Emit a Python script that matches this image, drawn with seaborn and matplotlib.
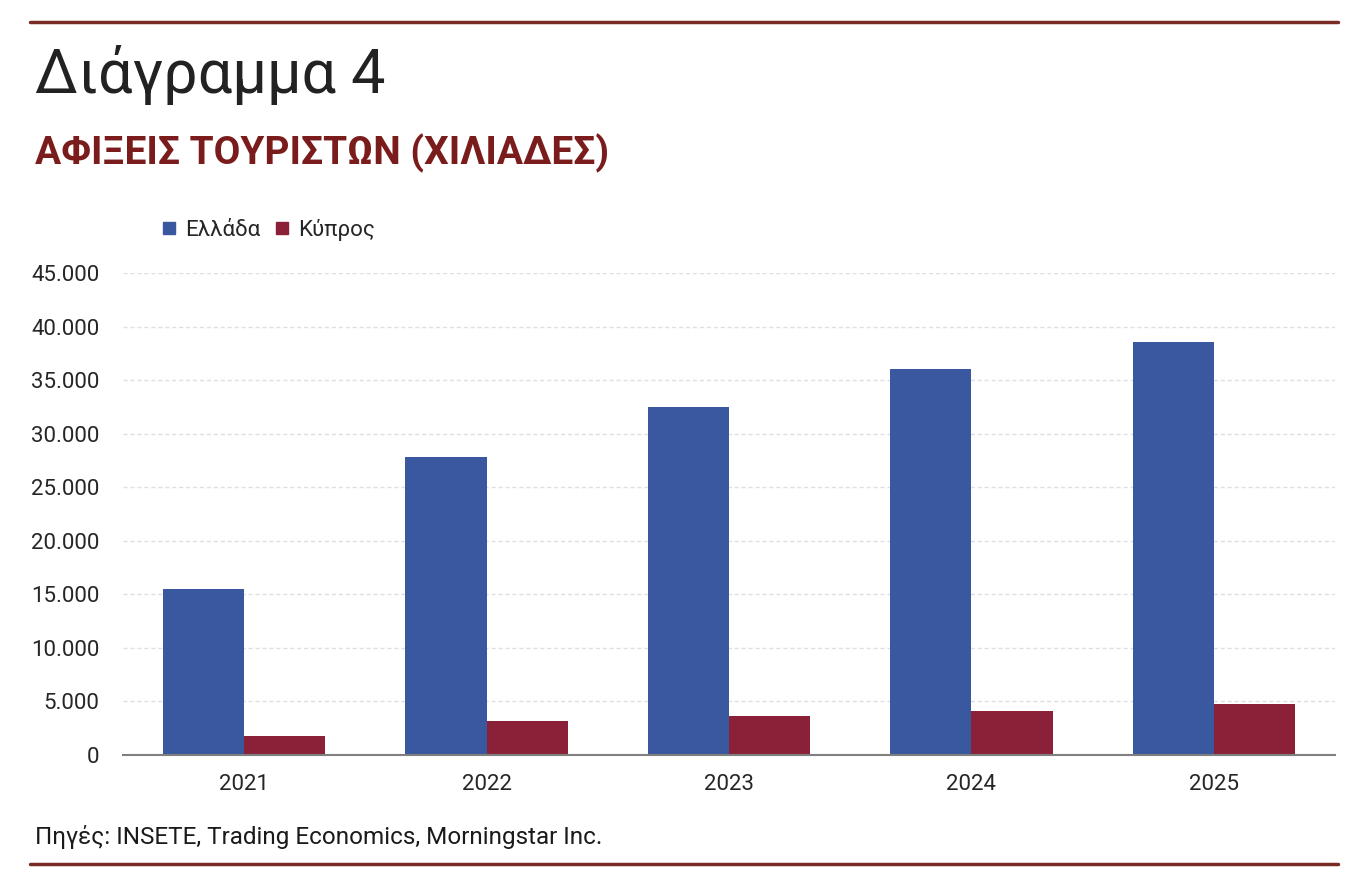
import matplotlib
matplotlib.use("Agg")
import matplotlib.pyplot as plt
from matplotlib.ticker import FuncFormatter
from matplotlib.lines import Line2D
import seaborn as sns
import pandas as pd

years = ["2021", "2022", "2023", "2024", "2025"]
greece = [15500, 27800, 32500, 36000, 38600]
cyprus = [1800, 3200, 3600, 4100, 4800]
series_names = ["Ελλάδα", "Κύπρος"]
colors = ["#3A58A0", "#8B2139"]
yticks = [0, 5000, 10000, 15000, 20000, 25000, 30000, 35000, 40000, 45000]

df = pd.DataFrame({
    "year": years * 2,
    "value": greece + cyprus,
    "series": [series_names[0]] * len(years) + [series_names[1]] * len(years),
})

sns.set_theme(style="white")
plt.rcParams["font.family"] = ["Roboto", "DejaVu Sans"]

fig = plt.figure(figsize=(13.68, 8.81), dpi=100)
ax = fig.add_axes([123 / 1368, 1 - 755 / 881, (1335 - 123) / 1368, (755 - 273) / 881])

sns.barplot(data=df, x="year", y="value", hue="series", palette=colors,
            width=0.67, gap=0, saturation=1, ax=ax, legend=False, linewidth=0)

ax.set_ylim(0, 45000)
ax.set_xlim(-0.5, 4.5)
ax.set_yticks(yticks)
ax.yaxis.set_major_formatter(FuncFormatter(lambda v, p: f"{int(v):,}".replace(",", ".")))
ax.grid(axis="y", color="#e0e0e0", linestyle=(0, (3, 2)), linewidth=1)
ax.set_axisbelow(True)
for s in ["top", "right", "left"]:
    ax.spines[s].set_visible(False)
ax.spines["bottom"].set_color("#7f7f7f")
ax.spines["bottom"].set_linewidth(1.5)
ax.tick_params(axis="y", length=0, pad=17, labelsize=16, labelcolor="#262626")
ax.tick_params(axis="x", length=0, pad=14, labelsize=16, labelcolor="#262626")
ax.set_xlabel("")
ax.set_ylabel("")

# legend
handles = [Line2D([0], [0], marker="s", linestyle="", markersize=9,
                  markerfacecolor=c, markeredgecolor=c) for c in colors]
fig.legend(handles, series_names, loc="center left",
           bbox_to_anchor=(138 / 1368, 1 - 230 / 881), ncol=2, frameon=False,
           fontsize=16, handletextpad=0.2, columnspacing=0.5, handlelength=1.0,
           labelcolor="#262626")

# header lines
fig.add_artist(Line2D([30 / 1368, 1338 / 1368], [1 - 22 / 881] * 2, color="#7a2a25", linewidth=2.5))
fig.add_artist(Line2D([30 / 1368, 1338 / 1368], [1 - 864 / 881] * 2, color="#7a2a25", linewidth=2.5))

fig.text(35 / 1368, 1 - 75 / 881, "Διάγραμμα 4", fontsize=44, color="#222222",
         va="center", ha="left")
fig.text(35 / 1368, 1 - 153 / 881, "ΑΦΙΞΕΙΣ ΤΟΥΡΙΣΤΩΝ (ΧΙΛΙΑΔΕΣ)", fontsize=28,
         color="#7b1c1c", va="center", ha="left", fontweight="bold")
fig.text(35 / 1368, 1 - 837 / 881, "Πηγές: INSETE, Trading Economics, Morningstar Inc.",
         fontsize=17.5, color="#1a1a1a", va="center", ha="left")

fig.savefig("out.png", dpi=100)
